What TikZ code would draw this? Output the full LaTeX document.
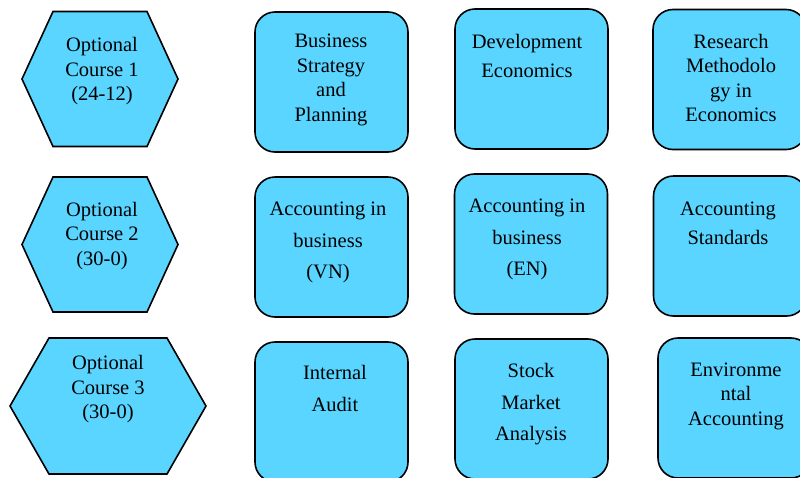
\documentclass[tikz,border=0pt]{standalone}
\usepackage{fontspec}
\setmainfont{LiberationSerif}[Extension=.ttf,UprightFont=*-Regular,BoldFont=*-Bold,Ligatures=TeX]
\usepackage{xcolor}
\definecolor{courseblue}{RGB}{89,213,255}

\begin{document}
\begin{tikzpicture}[x=1pt,y=-1pt]
			\tikzstyle{course}=[draw=black,line width=1.6pt,fill=courseblue,rounded corners=20pt,minimum width=153pt,minimum height=140pt]
			\tikzstyle{hexa}=[draw=black,line width=1.6pt,fill=courseblue,line join=miter]
			\tikzstyle{tight}=[inner sep=0pt,align=center,text=black,font=\rmfamily\fontsize{20.5}{24.5}\selectfont]
			\tikzstyle{middle}=[inner sep=0pt,align=center,text=black,font=\rmfamily\fontsize{20.5}{29.5}\selectfont]
			\tikzstyle{loose}=[inner sep=0pt,align=center,text=black,font=\rmfamily\fontsize{20.5}{31.5}\selectfont]
			\useasboundingbox (0,0) rectangle (800,477);
			% optional courses
			\draw[hexa] (22,79) -- (53,11.5) -- (147,11.5) -- (178,79) -- (147,146.5) -- (53,146.5) -- cycle;
			\draw[hexa] (22,244.5) -- (53,177) -- (147,177) -- (178,244.5) -- (147,312) -- (53,312) -- cycle;
			\draw[hexa] (10,406) -- (49,338) -- (167,338) -- (206,406) -- (167,474) -- (49,474) -- cycle;
			\node[tight]    (opt1) at (102,71.5)   {Optional\\Course 1\\(24-12)};
			\node[tight]    (opt2) at (102,236)    {Optional\\Course 2\\(30-0)};
			\node[tight]    (opt3) at (108,389.5)  {Optional\\Course 3\\(30-0)};
			% first row
			\node[course]   (bsp)  at (331.5,82)   {};
			\node[course]   (dev)  at (531.5,79)   {};
			\node[course]   (rme)  at (729.5,79.5) {};
			\node[tight]    (bspt) at (331,80)     {Business\\Strategy\\and\\Planning};
			\node[middle]   (devt) at (527,56)     {Development\\Economics};
			\node[tight]    (rmet) at (731,78)     {Research\\Methodolo\\gy in\\Economics};
			% second row
			\node[course]   (acvn) at (331.5,247)  {};
			\node[course]   (acen) at (531,244)    {};
			\node[course]   (acst) at (730,246)    {};
			\node[loose]    (acvnt) at (328,242.5) {Accounting in\\business\\(VN)};
			\node[loose]    (acent) at (527,239.5) {Accounting in\\business\\(EN)};
			\node[middle]   (acstt) at (728,223.5) {Accounting\\Standards};
			% third row
			\node[course]   (ina)  at (331.5,412)  {};
			\node[course]   (sma)  at (531.5,409)  {};
			\node[course]   (ena)  at (734.5,408)  {};
			\node[loose]    (inat) at (335,388.5)  {Internal\\Audit};
			\node[loose]    (smat) at (531,404.5)  {Stock\\Market\\Analysis};
			\node[tight]    (enat) at (736,396)    {Environme\\ntal\\Accounting};
		\end{tikzpicture}
\end{document}
